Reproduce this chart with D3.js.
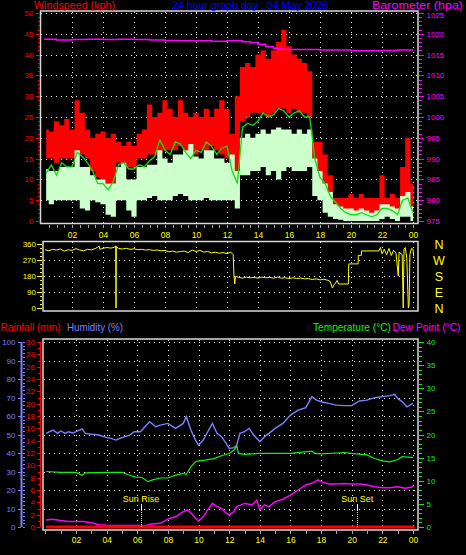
<!DOCTYPE html>
<html><head><meta charset="utf-8">
<script src="https://cdn.jsdelivr.net/npm/d3@7"></script>
<style>body{margin:0;background:#000;} svg{display:block;} text{font-family:"Liberation Sans",Arial,sans-serif;}</style>
</head><body><svg id="c" width="466" height="555"></svg>
<script>
// ---------- DATA ----------
// wind (kph), one value per 20-minute sample from 00:20 to 24:00
const gustHi = [22,21.5,24,23,24.5,22,29,26,22,20, 21,21.5,20,21,19,18,19,18,21,22, 28,25,26,29,27,25,29,26,25,26, 25,27,25,27,29,27, 21,30, 37,38,37,40,41,39,41,43,46,42,40,39,38,36, 19,19,16,11, 5.5,5.5,5.5,6.5,5.5,6.5,5.5,5.5,5.5, 11,5.5,6.5,5.5,13,20,9];
const gustLo = [15,15,14,15,15,15,14,16,15,12, 10.5,10,9,6,14,14,13,13,15,15, 16,16,16.5,17,17,17,18,17,16,16, 17,17,18,17,16,15, 11,6, 24,25,26,26,26,25,26,27,27,26,27,26,26,25, 13,10,7,4, 2,1.5,1.5,1,1,1.5,1,1,1, 2.5,2,2,1,3,4,1];
const windHi = [12.5,12,12,13,13,13,17,13,13,11, 10,10,9,9,13,14,10,10,13,13, 13.5,13.5,17,15,14,16,16,17,18.5,15.5, 15,17,17,15,15,14, 16,12, 20,21,20,21,22,21,22,22.5,22,22,21,22,21,22, 15,12,9,7, 4,3.5,3,3,2.5,3,2.5,2,2.5, 4,4,3.5,3,6,7,3.5];
const windLo = [5,4,5,5,5,5,5,3,2.5,5, 4.5,4,1.5,1,5,5,2.5,1,5,5, 5.5,6,5,5,5,6,6.5,6,5,5, 5,5.5,5,5,5,5, 5,3, 11,11,12,12,13,11,12,10,12,13,12,12,12,13, 6,5,2,1, 0.5,0.3,0,0,0,0,0,0,0, 0.5,1,0.5,0,1,1,0];
const windAvg = [11.5,13.5,11,14,13,13,16.5,15.5,14,12, 9,9,7.5,9.5,13.5,14,12.5,12.5,13.5,13, 14.5,15.5,19.5,17,16,19,18.5,16.5,15,17, 16.5,19,18,16,17.5,18, 12,9, 22.5,23.5,23,24,26,25,25.5,27,26.5,25,26,26.5,25,25, 15,10.5,9,6, 4.5,3,2,1.5,1.5,2,1.5,1,1.5, 3,3,2.5,1.5,5,5.5,2];

// barometer (hPa)
const baroT = [0.2,1,2,3,4,5,6,7,8,9,10,11,12,13,13.5,14,14.5,15,15.5,16,17,18,19,20,21,22,23,24];
const baroV = [1018.7,1018.5,1018.6,1018.7,1018.6,1018.7,1018.6,1018.5,1018.4,1018.3,1018.3,1018.2,1018.3,1018.1,1017.9,1017.5,1016.9,1016.5,1016.3,1016.2,1016.2,1016.1,1016.1,1015.9,1015.9,1016.0,1016.1,1016.1];

// wind direction (degrees)
const dirT = [0.25,0.5,0.75,1,1.25,1.5,1.75,2,2.25,2.5,2.75,3,3.25,3.5,3.75,3.8,4,4.25,4.5,4.75,4.82,4.84,4.86,5,5.25,5.5,5.75,6,6.25,6.5,6.75,7,7.25,7.5,7.75,8,8.25,8.5,8.75,9,9.25,9.5,9.75,10,10.25,10.5,10.75,11,11.25,11.5,11.75,12,12.25,12.4,12.45,12.5,12.55,12.75,13,13.25,13.5,13.75,14,14.25,14.5,14.75,15,15.25,15.5,15.75,16,16.25,16.5,16.75,17,17.25,17.5,17.75,18,18.25,18.5,18.65,18.8,18.9,19,19.1,19.2,19.83,19.84,19.86,20.46,20.47,20.67,20.68,21.8,21.9,22,22.15,22.3,22.45,22.6,22.75,22.9,23.05,23.1,23.3,23.37,23.42,23.5,23.6,23.7,23.75,23.8,23.9,24,24.05];
const dirV = [328,322,330,326,332,320,328,324,334,326,322,330,327,334,348,330,336,340,337,342,350,0,345,335,332,336,330,333,328,330,326,328,324,326,322,324,316,320,314,318,320,312,326,318,324,314,318,310,314,308,312,306,314,300,180,135,178,172,168,174,170,172,168,174,170,172,168,174,168,170,166,170,166,168,164,166,160,164,158,162,156,150,112,130,140,155,135,135,207,248,248,296,296,321,321,340,305,330,300,335,295,325,310,180,315,300,0,330,340,280,0,20,300,335,330,290];

// temperature, humidity, dew point
const tempT = [0.05,1,2,2.4,2.6,4,5,5.5,5.9,6.3,6.7,7,7.5,8,8.5,9,9.2,9.5,9.8,10,10.5,11,11.5,12,12.3,12.5,12.6,13,14,15,16,16.5,17.4,17.6,18,19,19.5,20,21,21.5,22,22.5,23,23.3,24];
const tempV = [12.0,11.8,11.8,11.2,11.7,11.8,11.8,11.2,10.8,10.7,9.8,10.2,10.6,10.6,11.2,11.6,11.4,13.0,14.1,14.3,14.5,14.8,15.4,15.9,16.6,17.5,15.9,15.7,15.9,15.9,15.9,16.1,16.4,15.9,15.8,16.0,16.1,15.9,15.6,14.8,14.3,14.1,14.6,15.2,15.0];
const dewT = [0.05,0.5,1,1.5,2.5,3,3.5,4,5,6,6.5,6.8,7.5,8,8.5,9,9.3,9.6,9.8,10,10.3,10.6,10.9,11.2,11.5,11.8,12,12.3,12.5,13,13.5,13.8,14,14.3,14.6,15,15.5,16,16.5,17,17.5,17.8,18,18.5,19,19.5,20,20.5,21,21.5,22,22.5,23,23.5,24];
const dewV = [1.5,1.7,1.4,1.2,1.2,0.9,0.5,0.4,0.3,0.3,0.2,0.6,0.8,1.7,2.2,3.3,3.7,2.7,1.9,1.3,2.2,3.7,5.1,4.4,4.0,3.0,2.6,3.3,4.4,5.1,4.8,5.8,3.7,4.8,4.4,5.5,6.0,6.9,8.0,9.1,9.6,10.2,9.8,9.3,9.3,9.4,9.3,9.3,9.1,8.7,8.5,8.5,8.7,8.4,8.7];
const humT = [0.05,0.5,0.8,1,1.3,1.5,1.8,2,2.4,2.6,3,3.5,4,4.3,4.6,5,5.5,5.8,6.2,6.5,6.8,7.2,7.5,8,8.5,9,9.2,9.5,9.8,10,10.3,10.6,10.9,11.2,11.5,11.8,12,12.3,12.5,12.7,13,13.3,13.6,14,14.3,14.6,15,15.5,16,16.5,17,17.4,17.7,18,18.5,19,19.5,20,20.5,21,21.5,22,22.5,22.8,23,23.3,23.6,24];
const humV = [50.6,52.4,50.6,51.9,50.6,51.5,50.8,51.5,53,50.6,50.1,49.7,48.3,47.9,47,48.3,49.7,51.5,51.5,54.2,56.9,54.2,55.1,56,53.3,56,59.6,52.4,47,44.3,47,51.5,56,50.6,48.8,45.2,42.5,42.9,44.5,50.6,51.5,53.3,49.7,46.1,48.8,50.6,53.3,56,60.5,63.2,64.5,70.5,68.6,67.7,66.8,65.9,65.6,65.6,68.1,68.6,69.9,70.5,71,71.7,69.5,67.7,65,66.8];
const rainT = [0.05,24.1];
const rainV = [0,0];

// tick labels
const hourTicks = [2,4,6,8,10,12,14,16,18,20,22,24];
const hourLabels = ["02","04","06","08","10","12","14","16","18","20","22","00"];
const dirTicks = [0,90,180,270,360];
const compass = ["N","E","S","W","N"];
const sunRise = 6.24, sunSet = 20.36;

// ---------- DRAW ----------
const svg = d3.select('#c');
svg.append('rect').attr('width',466).attr('height',555).attr('fill','#000');
const FONT = '"Liberation Sans", Arial, sans-serif';
const FRAME = '#d8d8d8';
const fmtInt = d3.format('d');

function grid(g, xs, ys, x0, x1, y0, y1){
  g.selectAll('line.h').data(ys).join('line').attr('class','h')
    .attr('x1',x0).attr('x2',x1).attr('y1',d=>Math.round(d)+0.5).attr('y2',d=>Math.round(d)+0.5)
    .attr('stroke','#fff').attr('stroke-dasharray','1,4').attr('shape-rendering','crispEdges');
  g.selectAll('line.v').data(xs).join('line').attr('class','v')
    .attr('y1',y0).attr('y2',y1).attr('x1',d=>Math.round(d)+0.5).attr('x2',d=>Math.round(d)+0.5)
    .attr('stroke','#fff').attr('stroke-dasharray','1,4').attr('shape-rendering','crispEdges');
}
function style(g, color, fs){
  g.select('.domain').remove();
  g.attr('font-family',FONT).attr('font-size',fs);
  g.selectAll('line').attr('stroke',color).attr('shape-rendering','crispEdges');
  g.selectAll('text').attr('fill',color);
  return g;
}

// ===== TOP CHART =====
const xTop = d3.scaleLinear().domain([0,24]).range([41,413]);
const yWind = d3.scaleLinear().domain([0,50]).range([221,13]);
const yBaro = d3.scaleLinear().domain([975,1025]).range([221,13]);
const gTop = svg.append('g');
grid(gTop, hourTicks.map(xTop), d3.range(5,51,5).map(yWind), 41, 417, 12, 223);

const wt = gustHi.map((d,i)=>(i+1)/3);
const bandG = d3.area().x((d,i)=>xTop(wt[i])).y0((d,i)=>yWind(gustLo[i])).y1(d=>yWind(d)).curve(d3.curveStep);
gTop.append('path').attr('d',bandG(gustHi)).attr('fill','#ff0000');
const bandW = d3.area().x((d,i)=>xTop(wt[i])).y0((d,i)=>yWind(windLo[i])).y1(d=>yWind(d)).curve(d3.curveStep);
gTop.append('path').attr('d',bandW(windHi)).attr('fill','#ccffcc');
const lineAvg = d3.line().x((d,i)=>xTop(wt[i])).y(d=>yWind(d));
gTop.append('path').attr('d',lineAvg(windAvg)).attr('fill','none').attr('stroke','#11dd11').attr('stroke-width',1.3);
const lineBaro = d3.line().x((d,i)=>xTop(baroT[i])).y(d=>yBaro(d)).curve(d3.curveStepAfter);
gTop.append('path').attr('d',lineBaro(baroV)).attr('fill','none').attr('stroke','#ff00ff').attr('stroke-width',1.5);

gTop.append('rect').attr('x',40.5).attr('y',11).attr('width',377.5).attr('height',212.5)
  .attr('fill','none').attr('stroke',FRAME).attr('stroke-width',1.5);

style(gTop.append('g').attr('transform','translate(39.5,0)')
  .call(d3.axisLeft(yWind).tickValues(d3.range(0,51,1)).tickSize(2).tickFormat('')), '#ff0000', 8);
style(gTop.append('g').attr('transform','translate(39.5,0)')
  .call(d3.axisLeft(yWind).tickValues(d3.range(0,51,5)).tickSize(4).tickPadding(2).tickFormat(fmtInt)), '#ff0000', 8);
style(gTop.append('g').attr('transform','translate(418.5,0)')
  .call(d3.axisRight(yBaro).tickValues(d3.range(975,1026,1)).tickSize(3).tickFormat('')), '#ff00ff', 8);
const baroAxis = style(gTop.append('g').attr('transform','translate(418.5,0)')
  .call(d3.axisRight(yBaro).tickValues(d3.range(975,1026,5)).tickSize(5).tickPadding(3).tickFormat(fmtInt)), '#ff00ff', 8);
baroAxis.selectAll('.tick').filter(d=>d===1025).select('text').attr('dy','0.62em');
style(gTop.append('g').attr('transform','translate(0,224.5)')
  .call(d3.axisBottom(xTop).tickValues(d3.range(0.5,24.01,0.5)).tickSize(3).tickFormat('')), '#a8a8a8', 8);
style(gTop.append('g').attr('transform','translate(0,224)')
  .call(d3.axisBottom(xTop).tickValues(hourTicks).tickSize(0).tickPadding(8).tickFormat((d,i)=>hourLabels[i])), '#ffff00', 8.5);

// titles
function label(x,y,txt,color,len,fs){
  svg.append('text').attr('x',x).attr('y',y).text(txt).attr('fill',color)
    .attr('font-size',fs||11).attr('font-family',FONT)
    .attr('textLength',len).attr('lengthAdjust','spacingAndGlyphs');
}
label(34,9,'Windspeed (kph)','#ff0000',81);
label(172,9,'24 hour graph day : 04 May 2026','#0000ff',156);
label(372,9,'Barometer (hpa)','#ff00ff',91);

// ===== MIDDLE CHART (direction) =====
const yDir = d3.scaleLinear().domain([0,360]).range([308,244]);
const gMid = svg.append('g');
grid(gMid, hourTicks.map(xTop), [90,180,270].map(yDir), 44, 417, 242, 310);
const lineDir = d3.line().x((d,i)=>xTop(dirT[i])).y(d=>yDir(d));
gMid.append('path').attr('d',lineDir(dirV)).attr('fill','none').attr('stroke','#ffff00').attr('stroke-width',1);
gMid.append('rect').attr('x',43).attr('y',241.5).attr('width',375).attr('height',69.5)
  .attr('fill','none').attr('stroke',FRAME).attr('stroke-width',1.5);
style(gMid.append('g').attr('transform','translate(42,0)')
  .call(d3.axisLeft(yDir).tickValues(d3.range(0,361,22.5)).tickSize(2).tickFormat('')), '#ffff00', 8);
style(gMid.append('g').attr('transform','translate(42,0)')
  .call(d3.axisLeft(yDir).tickValues(dirTicks).tickSize(5).tickPadding(1).tickFormat(fmtInt)), '#ffff00', 8);
gMid.selectAll('text.cmp').data(dirTicks).join('text').attr('class','cmp')
  .attr('x',439).attr('y',d=>yDir(d)+4.5).attr('text-anchor','middle')
  .attr('fill','#ffff00').attr('font-family',FONT).attr('font-size',12.5)
  .text((d,i)=>compass[i]);

// ===== BOTTOM CHART =====
const xBot = d3.scaleLinear().domain([0,24]).range([45.4,413]);
const yTemp = d3.scaleLinear().domain([0,40]).range([527,342]);
const yHum = d3.scaleLinear().domain([0,100]).range([527,342]);
const yRain = d3.scaleLinear().domain([0,30]).range([527,342]);
const gBot = svg.append('g');
grid(gBot, hourTicks.map(xBot), d3.range(10,101,10).map(yHum), 44, 417, 340, 529);

const lHum = d3.line().x((d,i)=>xBot(humT[i])).y(d=>yHum(d));
gBot.append('path').attr('d',lHum(humV)).attr('fill','none').attr('stroke','#7f7fff').attr('stroke-width',1.4);
const lTemp = d3.line().x((d,i)=>xBot(tempT[i])).y(d=>yTemp(d));
gBot.append('path').attr('d',lTemp(tempV)).attr('fill','none').attr('stroke','#11ee11').attr('stroke-width',1.2);
const lDew = d3.line().x((d,i)=>xBot(dewT[i])).y(d=>yTemp(d));
gBot.append('path').attr('d',lDew(dewV)).attr('fill','none').attr('stroke','#ff00ff').attr('stroke-width',1.5);
const lRain = d3.line().x((d,i)=>xBot(rainT[i])).y(d=>yRain(d));
gBot.append('path').attr('d',lRain(rainV)).attr('fill','none').attr('stroke','#ff0000').attr('stroke-width',3);

// sun rise / set markers
[[sunRise,'Sun Rise'],[sunSet,'Sun Set']].forEach(([h,t])=>{
  const x = Math.round(xBot(h))+0.5;
  gBot.append('line').attr('x1',x).attr('x2',x).attr('y1',504).attr('y2',510).attr('stroke','#fff');
  gBot.append('line').attr('x1',x).attr('x2',x).attr('y1',510).attr('y2',527).attr('stroke','#ffff00').attr('stroke-dasharray','1,1');
  gBot.append('text').attr('x',xBot(h)).attr('y',502).attr('text-anchor','middle')
    .attr('fill','#ffff00').attr('font-family',FONT).attr('font-size',9).text(t);
});

gBot.append('rect').attr('x',43).attr('y',339).attr('width',375).attr('height',191)
  .attr('fill','none').attr('stroke',FRAME).attr('stroke-width',1.5);

// humidity axis
gBot.append('line').attr('x1',21.5).attr('x2',21.5).attr('y1',342).attr('y2',527).attr('stroke','#7f7fff').attr('stroke-width',2);
style(gBot.append('g').attr('transform','translate(22.5,0)')
  .call(d3.axisRight(yHum).tickValues(d3.range(0,101,2)).tickSize(2).tickFormat('')), '#7f7fff', 8);
style(gBot.append('g').attr('transform','translate(20.5,0)')
  .call(d3.axisLeft(yHum).tickValues(d3.range(0,101,10)).tickSize(3).tickPadding(2).tickFormat(fmtInt)), '#7f7fff', 8);
// rainfall axis
gBot.append('line').attr('x1',40.5).attr('x2',40.5).attr('y1',342).attr('y2',527).attr('stroke','#ff0000');
style(gBot.append('g').attr('transform','translate(40,0)')
  .call(d3.axisLeft(yRain).tickValues(d3.range(0,31,1)).tickSize(2).tickFormat('')), '#ff0000', 8);
style(gBot.append('g').attr('transform','translate(40,0)')
  .call(d3.axisLeft(yRain).tickValues(d3.range(0,31,2)).tickSize(3).tickPadding(2).tickFormat(fmtInt)), '#ff0000', 8);
// temperature axis
style(gBot.append('g').attr('transform','translate(418.5,0)')
  .call(d3.axisRight(yTemp).tickValues(d3.range(0,41,1)).tickSize(3).tickFormat('')), '#11ee11', 8);
style(gBot.append('g').attr('transform','translate(418.5,0)')
  .call(d3.axisRight(yTemp).tickValues(d3.range(0,41,5)).tickSize(5).tickPadding(3).tickFormat(fmtInt)), '#11ee11', 8);
// x axis
style(gBot.append('g').attr('transform','translate(0,530.5)')
  .call(d3.axisBottom(xBot).tickValues(d3.range(0,24.01,1)).tickSize(3).tickFormat('')), '#a8a8a8', 8);
style(gBot.append('g').attr('transform','translate(0,530)')
  .call(d3.axisBottom(xBot).tickValues(hourTicks).tickSize(0).tickPadding(7).tickFormat((d,i)=>hourLabels[i])), '#ffff00', 8.5);

// legend
label(0.5,331,'Rainfall (mm)','#ff0000',60);
label(67,331,'Humidity (%)','#7f7fff',56);
label(313,331,'Temperature (°C)','#11ee11',78);
label(392.5,331,'Dew Point (°C)','#ff00ff',68);
</script></body></html>
